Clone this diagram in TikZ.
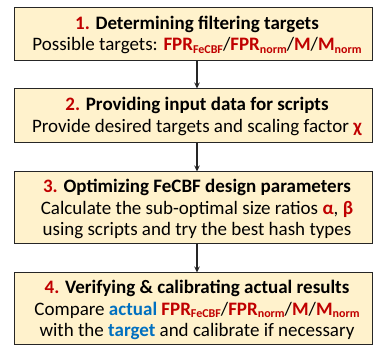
\documentclass[tikz,border=0pt]{standalone}
\usepackage{fontspec}
\setmainfont{Carlito}
\usetikzlibrary{arrows.meta}
\definecolor{stepfill}{HTML}{FFF2CC}
\definecolor{hired}{HTML}{C00000}
\definecolor{hiblue}{HTML}{0070C0}
\newcommand\rd[1]{\textcolor{hired}{\textbf{#1}}}
\newcommand\bl[1]{\textcolor{hiblue}{\textbf{#1}}}
\newcommand\lowsub[1]{\raisebox{-0.3ex}{\fontsize{12}{12}\selectfont #1}}
\newcommand\targets{\rd{FPR\lowsub{FeCBF}}/\rd{FPR\lowsub{norm}}/\rd{M}/\rd{M\lowsub{norm}}}
\begin{document}
\begin{tikzpicture}[x=1pt,y=-1pt,
  stepbox/.style={draw=black!85, line width=1pt, fill=stepfill, minimum width=358pt, inner sep=0pt},
  steptext/.style={align=center, font=\fontsize{19}{21.5}\selectfont, inner sep=0pt},
  flow/.style={-{Stealth[length=6pt,width=5.5pt]}, line width=1.1pt, black!85}]
\useasboundingbox (0,0) rectangle (373,347);
\node[stepbox, minimum height=53pt] (b1) at (193,34.5) {};
\node[stepbox, minimum height=54pt] (b2) at (193,116) {};
\node[stepbox, minimum height=72pt] (b3) at (193,208) {};
\node[stepbox, minimum height=72pt] (b4) at (193,309) {};
\node[steptext] (t1) at (197,35) {\rd{1.} \textbf{Determining filtering targets}\\Possible targets: \targets};
\node[steptext] (t2) at (197,116.5) {\rd{2.} \textbf{Providing input data for scripts}\\Provide desired targets and scaling factor \rd{χ}};
\node[steptext] (t3) at (197,209) {\rd{3.} \textbf{Optimizing FeCBF design parameters}\\Calculate the sub-optimal size ratios \rd{α}, \rd{β}\\using scripts and try the best hash types};
\node[steptext] (t4) at (197,310) {\rd{4.} \textbf{Verifying \& calibrating actual results}\\Compare \bl{actual} \targets\\with the \bl{target} and calibrate if necessary};
\draw[flow] (b1.south -| t1.center) -- (b2.north -| t1.center);
\draw[flow] (b2.south -| t2.center) -- (b3.north -| t2.center);
\draw[flow] (b3.south -| t3.center) -- (b4.north -| t3.center);
\end{tikzpicture}
\end{document}
